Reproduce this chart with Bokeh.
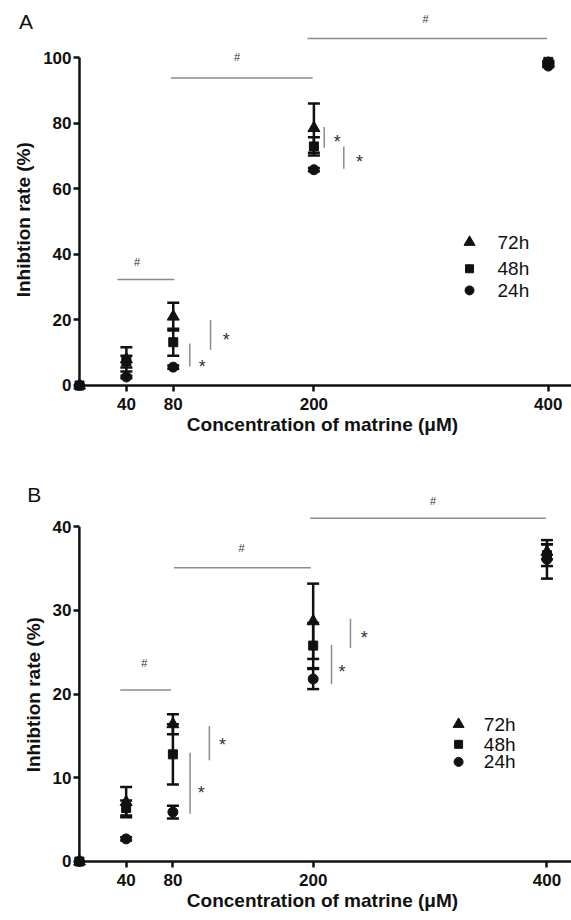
import numpy as np
from bokeh.plotting import figure
from bokeh.models import Range1d, FixedTicker, Label
from bokeh.layouts import column
from bokeh.embed import file_html
from bokeh.resources import INLINE
from bokeh.core.properties import value

FONT = "Liberation Sans"
INK = "#111111"
GREY = "#8c8c8c"
NOTE = "#333333"

# ---------------- data ----------------
conc = [0, 40, 80, 200, 400]
series = ["72h", "48h", "24h"]
markers = ["triangle", "square", "circle"]
x_ticks = [40, 80, 200, 400]

# Panel A (inhibition rate, %)
a_72 = [0, 8.0, 21.0, 78.5, 98.2]
a_72_sd = [0, 3.7, 4.2, 7.5, 0.3]
a_48 = [0, 7.3, 13.2, 72.9, 98.7]
a_48_sd = [0, 1.8, 4.1, 2.8, 0.3]
a_24 = [0, 2.6, 5.6, 65.8, 97.4]
a_24_sd = [0, 0.4, 0.5, 0.5, 0.3]
a_y_ticks = [0, 20, 40, 60, 80, 100]

# Panel B (inhibition rate, %)
b_72 = [0, 7.1, 16.4, 28.7, 37.0]
b_72_sd = [0, 1.8, 1.2, 4.5, 0.9]
b_48 = [0, 6.4, 12.8, 25.8, 36.6]
b_48_sd = [0, 0.9, 3.6, 2.7, 1.3]
b_24 = [0, 2.7, 5.9, 21.8, 36.1]
b_24_sd = [0, 0.2, 0.75, 1.2, 2.3]
b_y_ticks = [0, 10, 20, 30, 40]

# '#' comparisons between concentrations (bar from x0 to x1 at height y)
a_hash_x0 = [32.4, 78.0, 194.5]
a_hash_x1 = [81.0, 199.0, 399.0]
a_hash_y = [32.3, 93.8, 105.8]
a_hash_tx = [49.2, 134.5, 295.2]
a_hash_ty = [37.6, 100.3, 111.8]

b_hash_x0 = [35.0, 81.0, 197.5]
b_hash_x1 = [78.4, 198.0, 399.0]
b_hash_y = [20.5, 35.1, 41.0]
b_hash_tx = [55.5, 138.7, 302.5]
b_hash_ty = [23.7, 37.5, 43.1]

# '*' comparisons between time points (vertical bar y0..y1 at x, star at sx, sy)
a_star_x = [94.1, 111.8, 208.8, 225.5]
a_star_y0 = [5.8, 10.9, 72.5, 66.1]
a_star_y1 = [12.8, 20.0, 78.8, 72.9]
a_star_sx = [104.7, 125.2, 219.9, 238.9]
a_star_sy = [7.3, 15.4, 75.7, 69.8]

b_star_x = [94.7, 111.2, 215.7, 231.9]
b_star_y0 = [5.7, 12.1, 21.2, 25.5]
b_star_y1 = [13.0, 16.2, 25.9, 29.0]
b_star_sx = [104.2, 122.4, 224.6, 243.7]
b_star_sy = [8.8, 14.5, 23.2, 27.3]

Y_TITLE = "Inhibtion rate (%)"
X_TITLE = "Concentration of matrine (\u03bcM)"


def make_panel(letter, means, sds, y_ticks, hash_set, star_set, legend_pos,
               letter_pos, letter_side, geom, title_pad):
    (width, height, left, top, bottom, xr, yr) = geom
    p = figure(width=width, height=height, output_backend="svg",
               toolbar_location=None, x_range=Range1d(*xr), y_range=Range1d(*yr),
               min_border_left=left, min_border_bottom=bottom,
               min_border_top=top, min_border_right=0)
    p.outline_line_color = None
    p.grid.visible = False
    p.background_fill_color = "white"
    p.border_fill_color = "white"

    for ax in (p.xaxis[0], p.yaxis[0]):
        ax.axis_line_color = None
        ax.major_tick_in = 6
        ax.major_tick_out = 0
        ax.major_tick_line_width = 2.5
        ax.major_tick_line_color = INK
        ax.minor_tick_line_color = None
        ax.major_label_text_font = FONT
        ax.major_label_text_font_style = "bold"
        ax.major_label_text_font_size = "17px"
        ax.major_label_text_color = INK
        ax.axis_label_text_font = FONT
        ax.axis_label_text_font_style = "bold"
        ax.axis_label_text_font_size = "19px"
        ax.axis_label_text_color = INK
    p.xaxis.ticker = FixedTicker(ticks=x_ticks)
    p.yaxis.ticker = FixedTicker(ticks=y_ticks)
    p.xaxis.major_label_standoff = 6
    p.yaxis.major_label_standoff = 2
    p.xaxis.axis_label = X_TITLE
    p.xaxis.axis_label_standoff = 1
    p.yaxis.axis_label = Y_TITLE + "\u00a0" * title_pad
    p.yaxis.axis_label_standoff = 6

    # axis lines drawn through the data origin
    p.segment(x0=[0, 0], y0=[0, 0], x1=[0, xr[1]], y1=[y_ticks[-1], 0],
              line_color=INK, line_width=2.5)

    # '#' comparisons
    hx0, hx1, hy, htx, hty = hash_set
    p.segment(x0=hx0, y0=hy, x1=hx1, y1=hy, line_color=GREY, line_width=1.5)
    p.text(x=htx, y=hty, text=["#"] * len(htx), text_font=value(FONT),
           text_font_size="11px", text_color=NOTE, text_align="center",
           text_baseline="middle")

    # '*' comparisons
    sx, sy0, sy1, stx, sty = star_set
    p.segment(x0=sx, y0=sy0, x1=sx, y1=sy1, line_color=GREY, line_width=1.5)
    p.text(x=stx, y=sty, text=["*"] * len(stx), text_font=value(FONT),
           text_font_size="18px", text_color=NOTE, text_align="center",
           text_baseline="middle", y_offset=5)

    # error bars + markers
    for mean, sd, mk in zip(means, sds, markers):
        idx = [i for i in range(len(conc)) if sd[i] > 0]
        xs = [conc[i] for i in idx]
        lo = [mean[i] - sd[i] for i in idx]
        hi = [mean[i] + sd[i] for i in idx]
        p.segment(x0=xs, y0=lo, x1=xs, y1=hi, line_color=INK, line_width=2.5)
        p.scatter(xs, lo, marker="dash", size=12, line_color=INK, line_width=2.5)
        p.scatter(xs, hi, marker="dash", size=12, line_color=INK, line_width=2.5)
    for mean, mk in zip(means, markers):
        size = 12 if mk == "triangle" else (9 if mk == "square" else 10)
        p.scatter(conc, mean, marker=mk, size=size, fill_color=INK, line_color=INK)

    # legend
    lx, ltx, lys = legend_pos
    for name, mk, ly in zip(series, markers, lys):
        size = 11 if mk == "triangle" else (8 if mk == "square" else 9)
        p.scatter([lx], [ly], marker=mk, size=size, fill_color=INK, line_color=INK)
        p.text(x=[ltx], y=[ly], text=[name], text_font=value(FONT),
               text_font_size="19px", text_color=INK, text_align="left",
               text_baseline="middle")

    # panel letter (in a side panel so it is not clipped to the frame)
    p.add_layout(Label(x=letter_pos[0], y=letter_pos[1], text=letter,
                       text_font=FONT, text_font_size="21px", text_color=INK,
                       text_align="center", text_baseline="middle"), letter_side)
    return p


pA = make_panel(
    "A", [a_72, a_48, a_24], [a_72_sd, a_48_sd, a_24_sd], a_y_ticks,
    (a_hash_x0, a_hash_x1, a_hash_y, a_hash_tx, a_hash_ty),
    (a_star_x, a_star_y0, a_star_y1, a_star_sx, a_star_sy),
    (332.8, 356.7, [43.7, 35.6, 29.0]),
    (-45.6, 111.1), "below",
    (571, 467, 73, 0, 76, (-5.12, 419.8), (-1.83, 117.4)),
    9,
)

pB = make_panel(
    "B", [b_72, b_48, b_24], [b_72_sd, b_48_sd, b_24_sd], b_y_ticks,
    (b_hash_x0, b_hash_x1, b_hash_y, b_hash_tx, b_hash_ty),
    (b_star_x, b_star_y0, b_star_y1, b_star_sx, b_star_sy),
    (324.4, 346.0, [16.4, 14.0, 11.9]),
    (-38.7, 43.8), "above",
    (571, 453, 64, 28, 53, (-5.04, 421.0), (-0.717, 43.73)),
    5,
)

layout = column(pA, pB, spacing=0)
open("out.html", "w").write(file_html(layout, INLINE))
